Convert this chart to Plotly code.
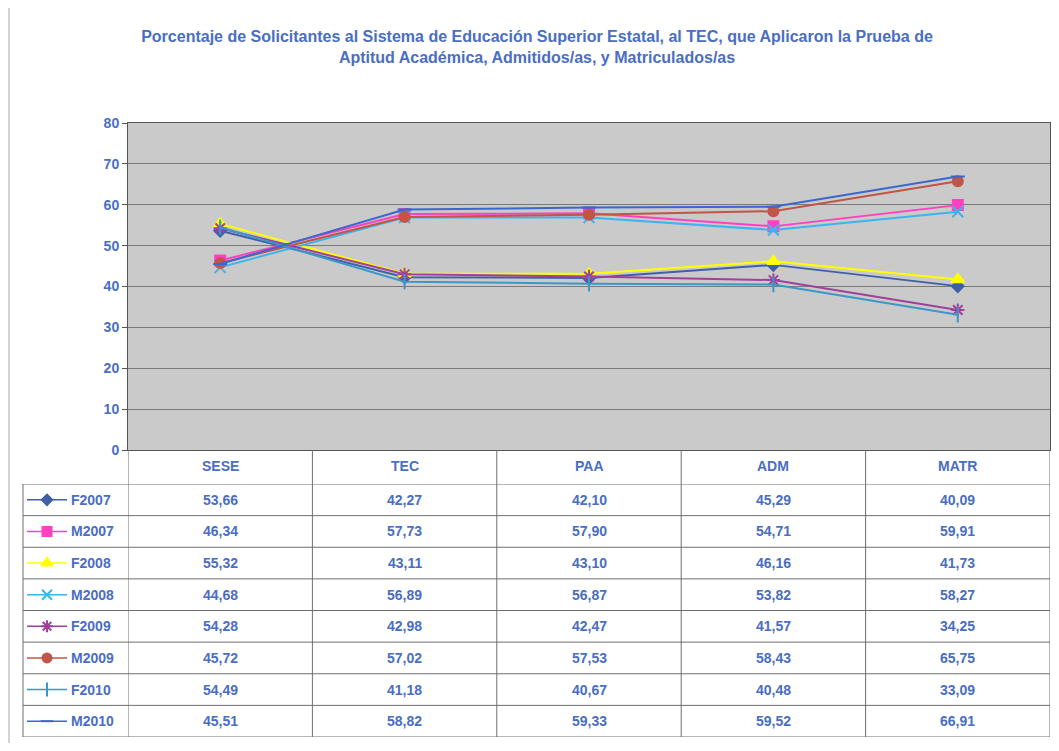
import plotly.graph_objects as go

categories = ["SESE", "TEC", "PAA", "ADM", "MATR"]
series_names = ["F2007", "M2007", "F2008", "M2008", "F2009", "M2009", "F2010", "M2010"]
F2007 = [53.66, 42.27, 42.10, 45.29, 40.09]
M2007 = [46.34, 57.73, 57.90, 54.71, 59.91]
F2008 = [55.32, 43.11, 43.10, 46.16, 41.73]
M2008 = [44.68, 56.89, 56.87, 53.82, 58.27]
F2009 = [54.28, 42.98, 42.47, 41.57, 34.25]
M2009 = [45.72, 57.02, 57.53, 58.43, 65.75]
F2010 = [54.49, 41.18, 40.67, 40.48, 33.09]
M2010 = [45.51, 58.82, 59.33, 59.52, 66.91]
y_ticks = [0, 10, 20, 30, 40, 50, 60, 70, 80]

values = [F2007, M2007, F2008, M2008, F2009, M2009, F2010, M2010]
colors = ["#3f5fa8", "#ff40c0", "#ffff00", "#3cb4f0", "#a0409a", "#c05548", "#3a98c8", "#3a68d0"]
symbols = ["diamond", "square", "triangle-up", "x-thin-open", "asterisk-open",
           "circle", "line-ns-open", "line-ew-open"]
sizes = [9, 10, 11, 11, 11, 10, 11, 10]

# page body has an 8px margin; figure sized to fit inside the window
OFF = 8
W, H = 1043, 735
def px(x):
    return (x - OFF) / W
def py(y):
    return 1 - (y - OFF) / H

TXT = "#4a6ec2"
FONT = "Liberation Sans, Arial, sans-serif"

fig = go.Figure()

for name, vals, c, s, sz in zip(series_names, values, colors, symbols, sizes):
    fig.add_trace(go.Scatter(
        x=categories, y=vals, mode="lines+markers", name=name,
        line=dict(color=c, width=2),
        marker=dict(symbol=s, size=sz, color=c, line=dict(color=c, width=2)),
        xaxis="x", yaxis="y", showlegend=False))

# legend keys inside the table (row axis y2, key axis x2)
for i, (name, c, s, sz) in enumerate(zip(series_names, colors, symbols, sizes)):
    fig.add_trace(go.Scatter(
        x=[0.0, 0.5, 1.0], y=[name, name, name], mode="lines",
        line=dict(color=c, width=1.5), xaxis="x2", yaxis="y2",
        showlegend=False, hoverinfo="skip"))
    fig.add_trace(go.Scatter(
        x=[0.5], y=[name], mode="markers",
        marker=dict(symbol=s, size=sz - 1, color=c, line=dict(color=c, width=2)),
        xaxis="x2", yaxis="y2", showlegend=False, hoverinfo="skip"))

annotations = []
for cat in categories:
    annotations.append(dict(x=cat, y=py(466), xref="x", yref="paper", text="<b>%s</b>" % cat,
                            showarrow=False, font=dict(family=FONT, size=14, color=TXT)))
for name, vals in zip(series_names, values):
    annotations.append(dict(x=px(69), y=name, xref="paper", yref="y2", text="<b>%s</b>" % name,
                            xanchor="left", showarrow=False,
                            font=dict(family=FONT, size=14, color=TXT)))
    for cat, v in zip(categories, vals):
        annotations.append(dict(x=cat, y=name, xref="x", yref="y2",
                                text="<b>%s</b>" % ("%.2f" % v).replace(".", ","),
                                showarrow=False, font=dict(family=FONT, size=14, color=TXT)))

shapes = []
GRID = "#6e6e6e"
# gray plot-area background
shapes.append(dict(type="rect", xref="x domain", yref="y domain", x0=0, x1=1, y0=0, y1=1,
                   fillcolor="#cacaca", line=dict(width=0), layer="below"))
for k in range(len(series_names) + 1):
    shapes.append(dict(type="line", xref="paper", yref="y2", x0=px(23), x1=px(1050),
                       y0=k - 0.5, y1=k - 0.5, line=dict(color=GRID, width=1)))
for k in range(len(categories) + 1):
    shapes.append(dict(type="line", xref="x", yref="paper", x0=k - 0.5, x1=k - 0.5,
                       y0=py(450), y1=py(737), line=dict(color=GRID, width=1)))
shapes.append(dict(type="line", xref="paper", yref="paper", x0=px(23), x1=px(23),
                   y0=py(484), y1=py(737), line=dict(color=GRID, width=1)))
# chart border
shapes.append(dict(type="line", xref="paper", yref="paper", x0=px(9), x1=px(9),
                   y0=1, y1=0, line=dict(color="#a8a8a8", width=1)))

fig.update_layout(
    width=W, height=H,
    margin=dict(l=0, r=0, t=0, b=0, autoexpand=False),
    paper_bgcolor="white",
    plot_bgcolor="rgba(0,0,0,0)",
    title=dict(text="<b>Porcentaje de Solicitantes al Sistema de Educación Superior Estatal, al TEC, que Aplicaron la Prueba de<br>Aptitud Académica, Admitidos/as, y Matriculados/as</b>",
               x=px(537), xanchor="center", y=py(42), yanchor="middle",
               font=dict(family=FONT, size=16, color=TXT)),
    xaxis=dict(domain=[px(128), px(1050)], type="category", categoryorder="array",
               categoryarray=categories, range=[-0.5, 4.5], showticklabels=False,
               showgrid=False, zeroline=False, showline=True, linecolor="#555555",
               mirror=True, ticks="", automargin=False),
    yaxis=dict(domain=[py(450), py(123)], range=[0, 80], tickvals=y_ticks,
               ticktext=["<b>%d</b>" % t for t in y_ticks],
               showgrid=True, gridcolor="#7a7a7a", gridwidth=1, zeroline=False,
               showline=True, linecolor="#555555", mirror=True,
               ticks="outside", ticklen=5, tickcolor="#555555", automargin=False,
               tickfont=dict(family=FONT, size=14, color=TXT)),
    xaxis2=dict(domain=[px(27), px(67)], range=[0, 1], visible=False, fixedrange=True,
                automargin=False),
    yaxis2=dict(domain=[py(737), py(484)], type="category", categoryorder="array",
                categoryarray=series_names, range=[7.5, -0.5], visible=False,
                anchor="x2", fixedrange=True, automargin=False),
    annotations=annotations,
    shapes=shapes,
)

fig.write_html("out.html")
